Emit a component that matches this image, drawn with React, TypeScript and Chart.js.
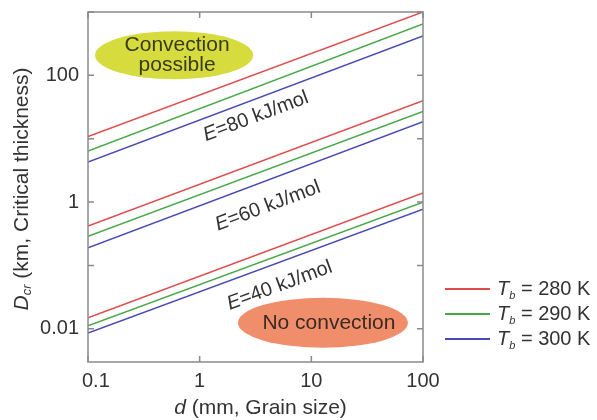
import React, { useEffect, useRef } from 'react';
import { Chart, registerables } from 'chart.js';

Chart.register(...registerables);

// ---- data ----
const grainSize = [0.1, 100]; // mm
const E80_T280 = [10.8, 1000];
const E80_T290 = [6.4, 646];
const E80_T300 = [4.3, 417];
const E60_T280 = [0.42, 40];
const E60_T290 = [0.29, 27];
const E60_T300 = [0.19, 18.6];
const E40_T280 = [0.015, 1.39];
const E40_T290 = [0.0112, 1.0];
const E40_T300 = [0.0086, 0.77];

const tempLabels = ['280 K', '290 K', '300 K'];
const energyLabels = ['=80 kJ/mol', '=60 kJ/mol', '=40 kJ/mol'];
const energyLabelPos = [
  { x: 3.19, y: 22.4 },
  { x: 4.08, y: 0.865 },
  { x: 5.2, y: 0.048 },
];
const xTickValues = [0.1, 1, 10, 100];
const xTickLabels = ['0.1', '1', '10', '100'];
const yTickValues = [100, 1, 0.01];
const yTickLabels = ['100', '1', '0.01'];
const yDecades = [1000, 100, 10, 1, 0.1, 0.01, 0.001];
const convectionCenter = { x: 0.59, y: 208 };
const noConvectionCenter = { x: 12.7, y: 0.0125 };

const COLORS = ['#e04a4a', '#48a848', '#4a4ab4'];
const FONT = '"Liberation Sans", Arial, Helvetica, sans-serif';
const TEXT = '#333333';
const FRAME = '#8a8a8a';

type Run = { t: string; size: number; italic?: boolean; dy?: number };

function fontOf(r: Run) {
  return `${r.italic ? 'italic ' : ''}${r.size}px ${FONT}`;
}
function runsWidth(ctx: CanvasRenderingContext2D, runs: Run[]) {
  let w = 0;
  for (const r of runs) {
    ctx.font = fontOf(r);
    w += ctx.measureText(r.t).width;
  }
  return w;
}
function drawRuns(ctx: CanvasRenderingContext2D, runs: Run[], x: number, y: number, align: 'left' | 'center') {
  const w = runsWidth(ctx, runs);
  let cx = align === 'center' ? x - w / 2 : x;
  ctx.textAlign = 'left';
  ctx.textBaseline = 'middle';
  for (const r of runs) {
    ctx.font = fontOf(r);
    ctx.fillText(r.t, cx, y + (r.dy || 0));
    cx += ctx.measureText(r.t).width;
  }
}

const series = [
  [E80_T280, E80_T290, E80_T300],
  [E60_T280, E60_T290, E60_T300],
  [E40_T280, E40_T290, E40_T300],
];

const decorPlugin = {
  id: 'decor',
  beforeDatasetsDraw(chart: any) {
    const ctx: CanvasRenderingContext2D = chart.ctx;
    const xs = chart.scales.x;
    const ys = chart.scales.y;
    ctx.save();
    // Convection possible ellipse
    const c1x = xs.getPixelForValue(convectionCenter.x);
    const c1y = ys.getPixelForValue(convectionCenter.y);
    ctx.fillStyle = '#d6db3e';
    ctx.beginPath();
    ctx.ellipse(c1x, c1y, 79, 24, 0, 0, Math.PI * 2);
    ctx.fill();
    ctx.fillStyle = '#3a3a1c';
    drawRuns(ctx, [{ t: 'Convection', size: 21 }], c1x + 3, c1y - 10, 'center');
    drawRuns(ctx, [{ t: 'possible', size: 21 }], c1x + 3, c1y + 10, 'center');
    // No convection ellipse
    const c2x = xs.getPixelForValue(noConvectionCenter.x);
    const c2y = ys.getPixelForValue(noConvectionCenter.y);
    ctx.fillStyle = '#f08e6c';
    ctx.beginPath();
    ctx.ellipse(c2x, c2y, 85, 25, 0, 0, Math.PI * 2);
    ctx.fill();
    ctx.fillStyle = '#3a2a22';
    drawRuns(ctx, [{ t: 'No convection', size: 21 }], c2x + 6, c2y, 'center');
    ctx.restore();
  },
  afterDatasetsDraw(chart: any) {
    const ctx: CanvasRenderingContext2D = chart.ctx;
    const xs = chart.scales.x;
    const ys = chart.scales.y;
    const a = chart.chartArea;
    ctx.save();
    // frame
    ctx.strokeStyle = FRAME;
    ctx.lineWidth = 1.5;
    ctx.strokeRect(a.left, a.top, a.right - a.left, a.bottom - a.top);
    // inward ticks
    ctx.beginPath();
    for (const v of xTickValues) {
      const px = xs.getPixelForValue(v);
      ctx.moveTo(px, a.bottom);
      ctx.lineTo(px, a.bottom - 6);
      ctx.moveTo(px, a.top);
      ctx.lineTo(px, a.top + 6);
    }
    for (const v of yDecades) {
      const py = ys.getPixelForValue(v);
      if (py < a.top - 0.5 || py > a.bottom + 0.5) continue;
      ctx.moveTo(a.left, py);
      ctx.lineTo(a.left + 6, py);
      ctx.moveTo(a.right, py);
      ctx.lineTo(a.right - 6, py);
    }
    ctx.stroke();

    // tick labels
    ctx.fillStyle = TEXT;
    ctx.font = `20px ${FONT}`;
    ctx.textBaseline = 'middle';
    xTickValues.forEach((v, i) => {
      const px = xs.getPixelForValue(v);
      const w = ctx.measureText(xTickLabels[i]).width;
      let left = px - w / 2;
      if (left < a.left - 6) left = a.left - 6;
      ctx.textAlign = 'left';
      ctx.fillText(xTickLabels[i], left, a.bottom + 19);
    });
    ctx.textAlign = 'right';
    yTickValues.forEach((v, i) => {
      const py = ys.getPixelForValue(v);
      ctx.fillText(yTickLabels[i], a.left - 9, py);
    });

    // axis titles
    const midX = (a.left + a.right) / 2;
    drawRuns(
      ctx,
      [
        { t: 'd', size: 21, italic: true },
        { t: ' (mm, Grain size)', size: 21 },
      ],
      midX + 5,
      a.bottom + 46,
      'center'
    );
    ctx.save();
    ctx.translate(22, (a.top + a.bottom) / 2 + 2);
    ctx.rotate(-Math.PI / 2);
    drawRuns(
      ctx,
      [
        { t: 'D', size: 21, italic: true },
        { t: 'cr', size: 13, italic: true, dy: 5 },
        { t: ' (km, Critical thickness)', size: 21 },
      ],
      0,
      0,
      'center'
    );
    ctx.restore();

    // energy labels along lines
    energyLabels.forEach((lab, i) => {
      const ref = series[i][2];
      const p0x = xs.getPixelForValue(grainSize[0]);
      const p0y = ys.getPixelForValue(ref[0]);
      const p1x = xs.getPixelForValue(grainSize[1]);
      const p1y = ys.getPixelForValue(ref[1]);
      const ang = Math.atan2(p1y - p0y, p1x - p0x);
      const cx = xs.getPixelForValue(energyLabelPos[i].x);
      const cy = ys.getPixelForValue(energyLabelPos[i].y);
      ctx.save();
      ctx.translate(cx, cy);
      ctx.rotate(ang);
      ctx.fillStyle = TEXT;
      drawRuns(
        ctx,
        [
          { t: 'E', size: 20, italic: true },
          { t: lab, size: 20 },
        ],
        0,
        0,
        'center'
      );
      ctx.restore();
    });

    // legend
    const lx0 = a.right + 22;
    const lx1 = a.right + 67;
    const rows = [a.bottom - 73, a.bottom - 48, a.bottom - 23];
    tempLabels.forEach((lab, i) => {
      ctx.strokeStyle = COLORS[i];
      ctx.lineWidth = 2;
      ctx.beginPath();
      ctx.moveTo(lx0, rows[i]);
      ctx.lineTo(lx1, rows[i]);
      ctx.stroke();
      ctx.fillStyle = TEXT;
      drawRuns(
        ctx,
        [
          { t: 'T', size: 20, italic: true },
          { t: 'b', size: 11, italic: true, dy: 7 },
          { t: ' = ' + lab, size: 20 },
        ],
        lx1 + 7,
        rows[i],
        'left'
      );
    });
    ctx.restore();
  },
};

export default function App() {
  const ref = useRef<HTMLCanvasElement | null>(null);
  useEffect(() => {
    if (!ref.current) return;
    const datasets: any[] = [];
    series.forEach((group) => {
      group.forEach((vals, ti) => {
        datasets.push({
          data: grainSize.map((x, k) => ({ x, y: vals[k] })),
          borderColor: COLORS[ti],
          borderWidth: 1.5,
          pointRadius: 0,
          fill: false,
        });
      });
    });
    const chart = new Chart(ref.current, {
      type: 'line',
      data: { datasets },
      options: {
        animation: false,
        responsive: false,
        maintainAspectRatio: false,
        devicePixelRatio: 1,
        layout: { padding: { top: 12, right: 174, left: 0, bottom: 0 } },
        plugins: { legend: { display: false }, tooltip: { enabled: false } },
        scales: {
          x: {
            type: 'logarithmic',
            min: 0.1,
            max: 100,
            grid: { display: false },
            border: { display: false },
            ticks: { display: false },
            afterFit: (s: any) => {
              s.height = 58;
            },
          },
          y: {
            type: 'logarithmic',
            min: 0.003,
            max: 1000,
            grid: { display: false },
            border: { display: false },
            ticks: { display: false },
            afterFit: (s: any) => {
              s.width = 88;
            },
          },
        },
      },
      plugins: [decorPlugin],
    });
    return () => chart.destroy();
  }, []);
  return (
    <div style={{ position: 'fixed', left: 0, top: 0, width: 597, height: 420, background: '#fff' }}>
      <canvas ref={ref} width={597} height={420} style={{ display: 'block', width: 597, height: 420 }} />
    </div>
  );
}
